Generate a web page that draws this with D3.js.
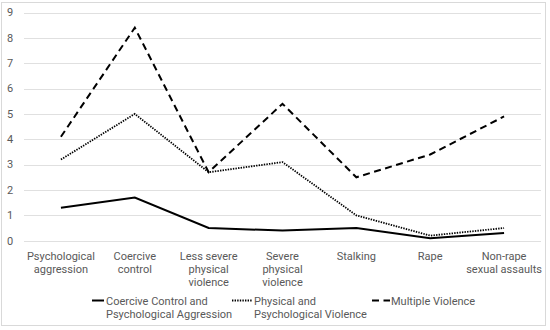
<!DOCTYPE html>
<html>
<head>
<meta charset="utf-8">
<script src="https://cdn.jsdelivr.net/npm/d3@7"></script>
<style>
  body { margin: 0; background: #fff; }
  text { font-family: Roboto, "Liberation Sans", sans-serif; fill: #595959; }
</style>
</head>
<body>
<svg id="chart" width="550" height="330"></svg>
<script>
// categories along the x axis (label lines)
var categories = [
  ["Psychological", "aggression"],
  ["Coercive", "control"],
  ["Less severe", "physical", "violence"],
  ["Severe", "physical", "violence"],
  ["Stalking"],
  ["Rape"],
  ["Non-rape", "sexual assaults"]
];
var yTicks = [0, 1, 2, 3, 4, 5, 6, 7, 8, 9];

// series values
var coerciveCtrl = [1.3, 1.7, 0.5, 0.4, 0.5, 0.1, 0.3];
var physPsych = [3.2, 5.0, 2.7, 3.1, 1.0, 0.2, 0.5];
var multipleViol = [4.1, 8.4, 2.7, 5.4, 2.5, 3.4, 4.9];

var seriesNames = [
  ["Coercive Control and", "Psychological Aggression"],
  ["Physical and", "Psychological Violence"],
  ["Multiple Violence"]
];

var series = [
  {name: seriesNames[0], values: coerciveCtrl, dash: null, width: 2},
  {name: seriesNames[1], values: physPsych, dash: "1.4,1.2", width: 1.8},
  {name: seriesNames[2], values: multipleViol, dash: "7,4.5", width: 2}
];

var svg = d3.select("#chart");

// outer chart border
svg.append("rect").attr("x", 1.5).attr("y", 2.5).attr("width", 544).attr("height", 323)
  .attr("fill", "none").attr("stroke", "#d9d9d9").attr("stroke-width", 1);

var plotLeft = 24, plotRight = 541;
var x = d3.scaleBand().domain(d3.range(categories.length)).range([plotLeft, plotRight]);
var y = d3.scaleLinear().domain([0, 9]).range([240.7, 12.5]);

// gridlines
svg.append("g").selectAll("line").data(yTicks).join("line")
  .attr("x1", plotLeft).attr("x2", plotRight)
  .attr("y1", d => Math.round(y(d)) + 0.5).attr("y2", d => Math.round(y(d)) + 0.5)
  .attr("stroke", "#e0e0e0").attr("stroke-width", 1);

// y labels
svg.append("g").selectAll("text").data(yTicks).join("text")
  .attr("x", 10).attr("y", d => y(d))
  .attr("text-anchor", "middle").attr("dy", "0.35em")
  .style("font-size", "11px")
  .text(d => d);

// x labels
var xl = svg.append("g").selectAll("text").data(categories).join("text")
  .attr("text-anchor", "middle")
  .style("font-size", "11px");
xl.selectAll("tspan").data((d, i) => d.map(s => ({s: s, i: i}))).join("tspan")
  .attr("x", d => x(d.i) + x.bandwidth() / 2)
  .attr("y", (d, j) => 259.5 + j * 13.4)
  .text(d => d.s);

// lines
var line = d3.line().x((d, i) => x(i) + x.bandwidth() / 2).y(d => y(d));
svg.append("g").selectAll("path").data(series).join("path")
  .attr("d", d => line(d.values))
  .attr("fill", "none").attr("stroke", "#000")
  .attr("stroke-width", d => d.width)
  .attr("stroke-dasharray", d => d.dash)
  .attr("stroke-linejoin", "miter");

// legend
var legendX = [[92, 104, 106], [232, 252, 254], [372, 390, 391]];
var lg = svg.append("g").selectAll("g").data(series).join("g");
lg.append("line")
  .attr("x1", (d, i) => legendX[i][0]).attr("x2", (d, i) => legendX[i][1])
  .attr("y1", 300.5).attr("y2", 300.5)
  .attr("stroke", "#000").attr("stroke-width", d => d.width)
  .attr("stroke-dasharray", d => d.dash);
var lt = lg.append("text").style("font-size", "11px");
lt.selectAll("tspan").data((d, i) => d.name.map(s => ({s: s, i: i}))).join("tspan")
  .attr("x", d => legendX[d.i][2])
  .attr("y", (d, j) => 304.5 + j * 13.4)
  .text(d => d.s);
</script>
</body>
</html>
